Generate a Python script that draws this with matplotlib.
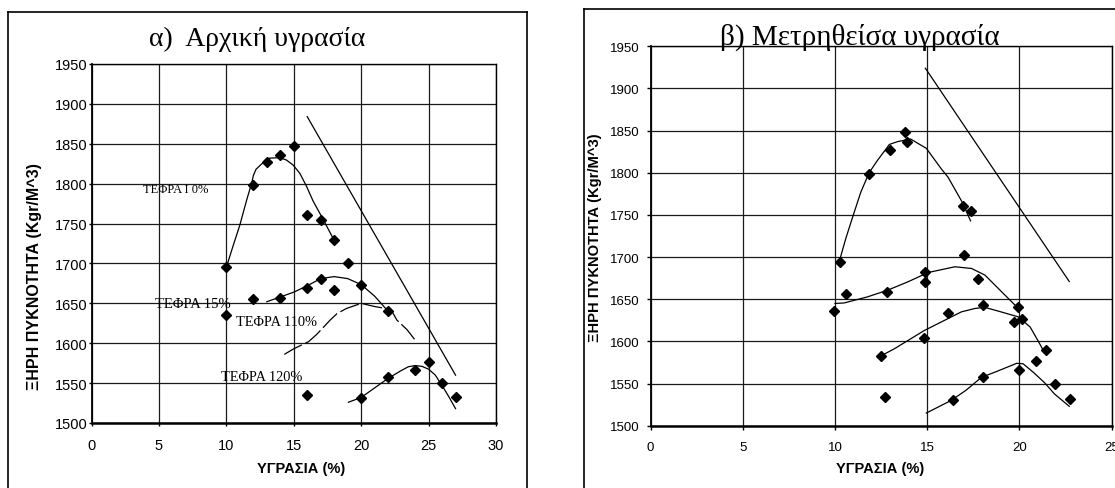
import matplotlib
matplotlib.use('Agg')
import matplotlib.pyplot as plt
from matplotlib.lines import Line2D

# ---------------- data: panel (a) initial moisture ----------------
a_x0 = [10, 12, 13, 14, 15, 16, 17, 18, 19]
a_y0 = [1695, 1798, 1827, 1836, 1847, 1761, 1755, 1729, 1701]
a_x5 = [10, 12, 14, 16, 17, 18, 20, 22]
a_y5 = [1635, 1655, 1657, 1669, 1681, 1667, 1673, 1640]
a_x20 = [16, 20, 22, 24, 25, 26, 27]
a_y20 = [1535, 1531, 1558, 1567, 1577, 1550, 1532]

a_c0_x = [10, 10.5, 11, 11.5, 11.9, 12, 12.2, 12.7, 13.2, 13.96, 14.45, 14.95, 15.45, 15.94, 16.44, 17.06, 17.7, 18.05]
a_c0_y = [1695, 1722, 1748, 1779, 1802, 1810, 1818, 1826, 1832, 1832.6, 1829.7, 1823.4, 1813, 1797, 1778, 1759, 1738.5, 1727]
a_c5_x = [13, 14, 15, 16, 17, 18, 19, 20, 21, 22]
a_c5_y = [1652, 1658, 1664, 1672, 1681, 1683.5, 1681, 1673.5, 1659, 1640]
a_c10_x = [14.3, 15, 16.1, 16.7, 17.7, 18.2, 18.9, 20, 21, 22.2, 22.65, 23.4, 24.0]
a_c10_y = [1586, 1593, 1602, 1611, 1629, 1637, 1643.5, 1650, 1646, 1642.5, 1629, 1617, 1604]
a_c20_x = [19.05, 20, 21, 22, 23, 23.5, 24, 24.5, 25, 25.5, 26, 26.5, 27]
a_c20_y = [1526, 1532, 1544, 1556, 1566, 1570.5, 1572, 1571, 1567.5, 1560, 1547, 1533, 1518]
a_line_x = [16, 27]
a_line_y = [1884, 1560]

# ---------------- data: panel (b) measured moisture ----------------
b_x0 = [10.25, 11.85, 13.0, 13.8, 13.9, 16.95, 17.4]
b_y0 = [1694, 1798, 1827, 1848, 1837, 1761, 1755]
b_x5 = [9.95, 10.6, 12.8, 14.9, 14.9, 17.0, 17.75, 19.9]
b_y5 = [1636, 1656.5, 1658.5, 1682, 1670.5, 1702, 1674, 1641]
b_x10 = [12.5, 14.85, 16.1, 18.0, 19.7, 20.15, 21.45]
b_y10 = [1583, 1604, 1634, 1643, 1622.5, 1627, 1590]
b_x20 = [12.7, 16.4, 18.0, 20.0, 20.9, 21.9, 22.75]
b_y20 = [1533.5, 1530.5, 1558, 1566, 1577, 1549, 1532]

b_c0_x = [10.3, 10.6, 10.95, 11.4, 11.85, 12.3, 12.95, 13.4, 14.1, 14.95, 15.76, 16.13, 16.9, 17.35]
b_c0_y = [1700, 1723, 1747, 1777, 1800, 1814.6, 1833.6, 1837, 1840, 1829, 1804.7, 1794.7, 1765, 1743]
b_c5_x = [10, 10.5, 11.76, 12.85, 13.95, 15.05, 16.5, 17.4, 18.13, 19.04, 19.76, 20.0]
b_c5_y = [1645, 1645.6, 1652.8, 1660.7, 1670.6, 1681.7, 1688.5, 1686.5, 1678.6, 1658.7, 1643, 1637]
b_c10_x = [12.53, 13.2, 13.95, 14.85, 15.76, 16.85, 17.58, 18.1, 19.0, 19.95, 20.58, 21.0, 21.35]
b_c10_y = [1583.3, 1591, 1601, 1613, 1623, 1635, 1639, 1640.5, 1635, 1629, 1617, 1601, 1587]
b_c20_x = [14.95, 16.3, 17.1, 17.95, 18.67, 19.85, 20.2, 20.77, 21.36, 21.9, 22.7]
b_c20_y = [1515, 1530, 1542, 1557.5, 1563.5, 1574, 1573.4, 1563, 1551, 1537.6, 1523]
b_line_x = [14.9, 22.7]
b_line_y = [1924, 1671]

x_ticks_a = [0, 5, 10, 15, 20, 25, 30]
x_ticks_b = [0, 5, 10, 15, 20, 25]
y_ticks = [1500, 1550, 1600, 1650, 1700, 1750, 1800, 1850, 1900, 1950]

labels_a = ['ΤΕΦΡΑ Ι 0%', 'ΤΕΦΡΑ 15%', 'ΤΕΦΡΑ 110%', 'ΤΕΦΡΑ 120%']

title_a = 'α)  Αρχική υγρασία'
title_b = 'β) Μετρηθείσα υγρασία'
xlabel = 'ΥΓΡΑΣΙΑ (%)'
ylabel = 'ΞΗΡΗ ΠΥΚΝΟΤΗΤΑ (Kgr/M^3)'

SANS = 'Liberation Sans'
SERIF = 'Liberation Serif'

W, H = 1115, 489
fig = plt.figure(figsize=(W / 100, H / 100), dpi=100)
fig.patch.set_facecolor('white')


def fx(px):
    return px / W


def fy(py):
    return 1 - py / H


axA = fig.add_axes([fx(91.5), fy(424), fx(496) - fx(91.5), fy(65) - fy(424)])
axB = fig.add_axes([fx(650.5), fy(426.7), fx(1111.7) - fx(650.5), fy(47.3) - fy(426.7)])


def style(ax, xmax, xticks, lsize, ylen, ypad, xlen, xpad):
    ax.set_xlim(0, xmax)
    ax.set_ylim(1500, 1950)
    ax.set_xticks(xticks)
    ax.set_yticks(y_ticks)
    ax.grid(True, color='#1a1a1a', lw=0.9)
    ax.set_axisbelow(True)
    for s in ax.spines.values():
        s.set_color('black')
        s.set_linewidth(1.0)
    ax.spines['bottom'].set_linewidth(1.8)
    ax.spines['left'].set_linewidth(1.3)
    ax.tick_params(axis='y', direction='out', length=ylen, width=1, pad=ypad,
                   labelsize=lsize, colors='black')
    ax.tick_params(axis='x', direction='out', length=xlen, width=1, pad=xpad,
                   labelsize=lsize, colors='black')
    for t in ax.get_xticklabels() + ax.get_yticklabels():
        t.set_fontfamily(SANS)


style(axA, 30, x_ticks_a, 10.5, 2.5, 0.5, 2.5, 8.5)
style(axB, 25, x_ticks_b, 9.5, 3, 5, 3, 8)

MS = 4.8
LW = 0.9

# panel a
for xs, ys in [(a_x0, a_y0), (a_x5, a_y5), (a_x20, a_y20)]:
    axA.plot(xs, ys, 'D', color='black', ms=MS, ls='none', zorder=4)
axA.plot(a_c0_x, a_c0_y, color='black', lw=LW, zorder=3)
axA.plot(a_c5_x, a_c5_y, color='black', lw=LW, zorder=3)
axA.plot(a_c10_x, a_c10_y, color='black', lw=LW, ls=(0, (16, 3)), zorder=3)
axA.plot(a_c20_x, a_c20_y, color='black', lw=LW, zorder=3)
axA.plot(a_line_x, a_line_y, color='black', lw=LW, zorder=3)

lab_pos = [(3.8, 1793, 9), (4.71, 1650, 10.5), (10.72, 1627, 10.4), (9.58, 1558, 10.4)]
for s, (lx, ly, fs) in zip(labels_a, lab_pos):
    axA.text(lx, ly, s, ha='left', va='center', fontsize=fs, family=SERIF, zorder=5)

# panel b
for xs, ys in [(b_x0, b_y0), (b_x5, b_y5), (b_x10, b_y10), (b_x20, b_y20)]:
    axB.plot(xs, ys, 'D', color='black', ms=MS, ls='none', zorder=4)
axB.plot(b_c0_x, b_c0_y, color='black', lw=LW, zorder=3)
axB.plot(b_c5_x, b_c5_y, color='black', lw=LW, zorder=3)
axB.plot(b_c10_x, b_c10_y, color='black', lw=LW, zorder=3)
axB.plot(b_c20_x, b_c20_y, color='black', lw=LW, zorder=3)
axB.plot(b_line_x, b_line_y, color='black', lw=LW, zorder=3)

# titles and axis labels
fig.text(fx(257), fy(45.7), title_a, ha='center', va='baseline', fontsize=20, family=SERIF)
fig.text(fx(860), fy(45), title_b, ha='center', va='baseline', fontsize=21, family=SERIF)
fig.text(fx(300.8), fy(469.5), xlabel, ha='center', va='center', fontsize=10.5,
         fontweight='bold', family=SANS)
fig.text(fx(880), fy(469), xlabel, ha='center', va='center', fontsize=10.5,
         fontweight='bold', family=SANS)
fig.text(fx(35), fy(277), ylabel, ha='center', va='center', rotation=90, fontsize=11.5,
         fontweight='bold', family=SANS)
fig.text(fx(594.5), fy(238), ylabel, ha='center', va='center', rotation=90, fontsize=10.6,
         fontweight='bold', family=SANS)

# outer chart frames
frame = dict(transform=fig.transFigure, color='black', lw=1.2)
fig.add_artist(Line2D([fx(8), fx(8)], [fy(12.7), 0], **frame))
fig.add_artist(Line2D([fx(8), fx(527)], [fy(12.7), fy(12.7)], **frame))
fig.add_artist(Line2D([fx(527), fx(527)], [fy(12.7), 0], **frame))
fig.add_artist(Line2D([fx(584), fx(584)], [fy(10), 0], **frame))
fig.add_artist(Line2D([fx(584), 1], [fy(10), fy(10)], **frame))

fig.savefig('out.png', dpi=100, facecolor='white')
